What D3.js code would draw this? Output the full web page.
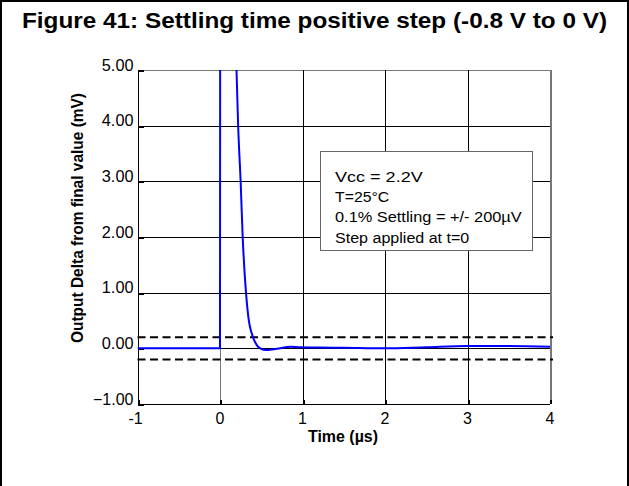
<!DOCTYPE html>
<html>
<head>
<meta charset="utf-8">
<script src="https://cdn.jsdelivr.net/npm/d3@7"></script>
<style>
  html, body { margin: 0; padding: 0; background: #fff; }
  svg { display: block; font-family: "Liberation Sans", Arial, Helvetica, sans-serif; }
</style>
</head>
<body>
<svg id="chart" width="629" height="486"></svg>
<script>
// ---- data ----
const titleText = "Figure 41: Settling time positive step (-0.8 V to 0 V)";
const xLabel = "Time (µs)";
const yLabel = "Output Delta from final value  (mV)";
const xTicks = [-1, 0, 1, 2, 3, 4];
const yTicks = [-1, 0, 1, 2, 3, 4, 5];
const settlingBand = [0.2, -0.2];
const legendLines = ["Vcc = 2.2V", "T=25°C", "0.1% Settling = +/- 200µV", "Step applied at t=0"];
const timeUs = [-1, -0.5, 0, 0.003, 0.1, 0.18, 0.2, 0.22, 0.25, 0.275, 0.315, 0.343, 0.4, 0.45, 0.5, 0.53, 0.585, 0.65, 0.73, 0.85, 0.97, 1.2, 1.5, 2.0, 2.5, 3.0, 3.5, 4.0];
const deltaMv = [0, 0, 0, 8, 9, 6.5, 5.0, 4.0, 3.0, 2.0, 1.0, 0.57, 0.2, 0.05, -0.01, -0.025, -0.03, -0.015, 0.0, 0.03, 0.02, 0.015, 0.01, 0.0, 0.02, 0.04, 0.04, 0.03];

// ---- layout ----
const svg = d3.select("#chart");
const x = d3.scaleLinear().domain([-1, 4]).range([137.5, 550]);
const y = d3.scaleLinear().domain([-1, 5]).range([404, 70]);
const legendWidths = [87.7, 54.3, 186.7, 134.3];

function fit(sel, w) {
  sel.attr("textLength", w).attr("lengthAdjust", "spacingAndGlyphs");
}

// frame
svg.append("path").attr("d", "M1,486V1H628V486").attr("fill", "none").attr("stroke", "#000").attr("stroke-width", 2);

// title
svg.append("text").attr("x", 314.5).attr("y", 28).attr("text-anchor", "middle")
  .attr("font-size", 22).attr("font-weight", "bold").text(titleText).call(fit, 585);

// grid
const g = svg.append("g").attr("shape-rendering", "crispEdges");
g.selectAll("line.h").data(yTicks).join("line").attr("class", "h")
  .attr("x1", x(-1)).attr("x2", x(4))
  .attr("y1", d => Math.round(y(d)) + 0.5).attr("y2", d => Math.round(y(d)) + 0.5)
  .attr("stroke", d => d === 5 ? "#777" : "#000").attr("stroke-width", 1);
g.selectAll("line.v").data(xTicks).join("line").attr("class", "v")
  .attr("x1", d => Math.round(x(d)) + 0.5).attr("x2", d => Math.round(x(d)) + 0.5)
  .attr("y1", y(5)).attr("y2", y(-1))
  .attr("stroke", d => (d === 0 || d === 4) ? "#777" : "#000")
  .attr("stroke-width", d => d === 4 ? 2 : 1);

// tick marks
g.selectAll("line.ty").data(yTicks).join("line").attr("class", "ty")
  .attr("x1", x(-1)).attr("x2", x(-1) + 6)
  .attr("y1", d => Math.round(y(d)) + 0.5).attr("y2", d => Math.round(y(d)) + 0.5)
  .attr("stroke", "#000").attr("stroke-width", 2);
g.selectAll("line.tx").data(xTicks).join("line").attr("class", "tx")
  .attr("x1", d => Math.round(x(d)) + 0.5).attr("x2", d => Math.round(x(d)) + 0.5)
  .attr("y1", y(-1)).attr("y2", y(-1) - 4)
  .attr("stroke", "#000").attr("stroke-width", 2);

// settling band
svg.selectAll("line.band").data(settlingBand).join("line").attr("class", "band")
  .attr("x1", x(-1)).attr("x2", x(4) + 3)
  .attr("y1", d => y(d)).attr("y2", d => y(d))
  .attr("stroke", "#000").attr("stroke-width", 2).attr("stroke-dasharray", "8,4.5");

// curve
svg.append("clipPath").attr("id", "clip").append("rect")
  .attr("x", x(-1)).attr("y", y(5)).attr("width", x(4) - x(-1) + 1).attr("height", y(-1) - y(5));
const pts = timeUs.map((t, i) => [t, deltaMv[i]]);
svg.append("path").datum(pts).attr("clip-path", "url(#clip)")
  .attr("d", d3.line().x(d => x(d[0])).y(d => y(d[1])).curve(d3.curveMonotoneX))
  .attr("fill", "none").attr("stroke", "#0000ff").attr("stroke-width", 2);

// legend
svg.append("rect").attr("x", 320.5).attr("y", 151.5).attr("width", 212).attr("height", 99)
  .attr("fill", "#fff").attr("stroke", "#666").attr("stroke-width", 1);
svg.selectAll("text.leg").data(legendLines).join("text").attr("class", "leg")
  .attr("x", 335).attr("y", (d, i) => 181.5 + i * 20.4)
  .attr("font-size", 15.5).text(d => d)
  .each(function(d, i) { d3.select(this).call(fit, legendWidths[i]); });

// y tick labels
svg.selectAll("text.yt").data(yTicks).join("text").attr("class", "yt")
  .attr("x", 133.5).attr("y", d => y(d) + 0.5).attr("text-anchor", "end")
  .attr("font-size", 16).text(d => d3.format(".2f")(d))
  .each(function(d) { if (d >= 0) d3.select(this).call(fit, 31.7); });

// x tick labels
svg.selectAll("text.xt").data(xTicks).join("text").attr("class", "xt")
  .attr("x", d => x(d) - (d < 0 ? 2 : 0)).attr("y", 424).attr("text-anchor", "middle")
  .attr("font-size", 16).text(d => d);

// axis titles
svg.append("text").attr("x", 343).attr("y", 442).attr("text-anchor", "middle")
  .attr("font-size", 16).attr("font-weight", "bold").text(xLabel).call(fit, 70);
svg.append("text").attr("transform", "translate(83,218) rotate(-90)").attr("text-anchor", "middle")
  .attr("font-size", 16).attr("font-weight", "bold").text(yLabel).call(fit, 250);
</script>
</body>
</html>
